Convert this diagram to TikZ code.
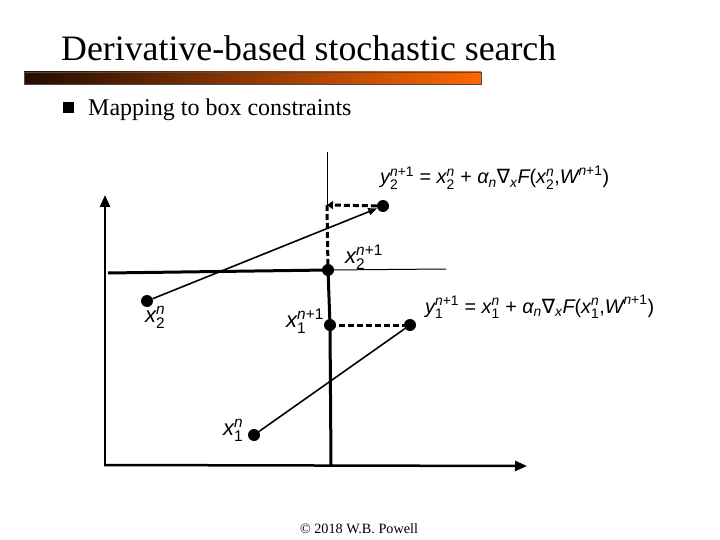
\documentclass[tikz,border=0pt]{standalone}
\usepackage{amsmath}
\usepackage{fontspec}
\setmainfont{Liberation Serif}
\newfontfamily\arf{Liberation Sans}
\newfontfamily\dvf{DejaVu Sans}
\usetikzlibrary{arrows.meta}
\newcommand\vi[1]{\text{\arf\itshape #1}}
\newcommand\vr[1]{\text{\arf #1}}
\newcommand\nab{\text{\dvf ∇}}
\definecolor{barL}{RGB}{35,12,0}
\definecolor{barR}{RGB}{255,102,0}
\tikzset{
 axis/.style={line width=2.5pt, -{Triangle[length=12pt,width=10pt]}},
 thickln/.style={line width=3pt},
 thinln/.style={line width=1pt},
 stepln/.style={line width=1.6pt},
 dashln/.style={line width=3pt, dash pattern=on 6pt off 3pt},
 dot/.style={circle, fill=black, inner sep=0pt, minimum size=12pt},
 lbl/.style={font=\arf\fontsize{22}{26}\selectfont, inner sep=0pt, anchor=base west},
 frm/.style={font=\arf\fontsize{19.8}{23}\selectfont, inner sep=0pt, anchor=base west},
}
\begin{document}
\begin{tikzpicture}[x=1pt,y=-1pt]
\useasboundingbox (0,0) rectangle (720,540);
% title
\node[font=\fontsize{35.8}{40}\selectfont, anchor=base west, inner sep=0pt] (title) at (61,61) {Derivative-based stochastic search};
\shade[left color=barL, right color=barR, draw=black!70, line width=0.6pt] (24,72) rectangle (481,84);
\fill (63,102) rectangle (74,113);
\node[font=\fontsize{24}{28}\selectfont, anchor=base west, inner sep=0pt] (sub) at (88,116) {Mapping to box constraints};
\node[font=\fontsize{14.2}{17}\selectfont, anchor=base, inner sep=0pt] (foot) at (359,533) {© 2018 W.B. Powell};
% coordinates
\coordinate (O) at (105,465);
\coordinate (ytip) at (105,195);
\coordinate (xtip) at (527,466);
\coordinate (hl) at (108,273);
\coordinate (hr) at (446,269);
\coordinate (vt) at (327,152);
\coordinate (corner) at (327,205);
\coordinate (vb) at (331,465);
% dots
\node[dot] (x2n) at (147,301) {};
\node[dot] (y2) at (383,206) {};
\node[dot] (x2p) at (328,270) {};
\node[dot] (x1p) at (330,325) {};
\node[dot] (y1) at (410,325) {};
\node[dot] (x1n) at (254,435) {};
% axes
\draw[axis] (O) -- (ytip);
\draw[axis] (104,465) -- (xtip);
% constraints
\draw[thickln] (hl) -- (x2p.center);
\draw[thinln] (x2p.center) -- (hr);
\draw[thinln] (vt) -- (corner);
\draw[thickln] (x2p.center) -- (x1p.center) -- (vb);
% steps
\draw[stepln, -{Triangle[length=9pt,width=7pt]}] (x2n) -- (y2);
\draw[stepln] (x1n) -- (y1);
% projections
\draw[dashln, -{Triangle[length=6pt,width=8pt]}] (y2) -- (corner);
\draw[dashln] (327,205) -- (x2p.center);
\draw[dashln] (x1p.center) -- (y1);
% labels
\node[lbl] (lx2p) at (345,263) {$\vi{x}_{\vr 2}^{\vi n\vr{+1}}$};
\node[lbl] (lx2n) at (145,322) {$\vi{x}_{\vr 2}^{\vi n}$};
\node[lbl] (lx1p) at (286,327) {$\vi{x}_{\vr 1}^{\vi n\vr{+1}}$};
\node[lbl] (lx1n) at (223,435) {$\vi{x}_{\vr 1}^{\vi n}$};
\node[frm] (fy2) at (380,184) {$\vi{y}_{\vr 2}^{\vi n\vr{+1}}\vr{ = }\vi{x}_{\vr 2}^{\vi n}\vr{ + }\vi{α}_{\vi n}\nab_{\vi x}\vi{F}\vr{(}\vi{x}_{\vr 2}^{\vi n}\vr{,}\vi{W}^{\vi n\vr{+1}}\vr{)}$};
\node[frm] (fy1) at (425,313) {$\vi{y}_{\vr 1}^{\vi n\vr{+1}}\vr{ = }\vi{x}_{\vr 1}^{\vi n}\vr{ + }\vi{α}_{\vi n}\nab_{\vi x}\vi{F}\vr{(}\vi{x}_{\vr 1}^{\vi n}\vr{,}\vi{W}^{\vi n\vr{+1}}\vr{)}$};
\end{tikzpicture}
\end{document}
